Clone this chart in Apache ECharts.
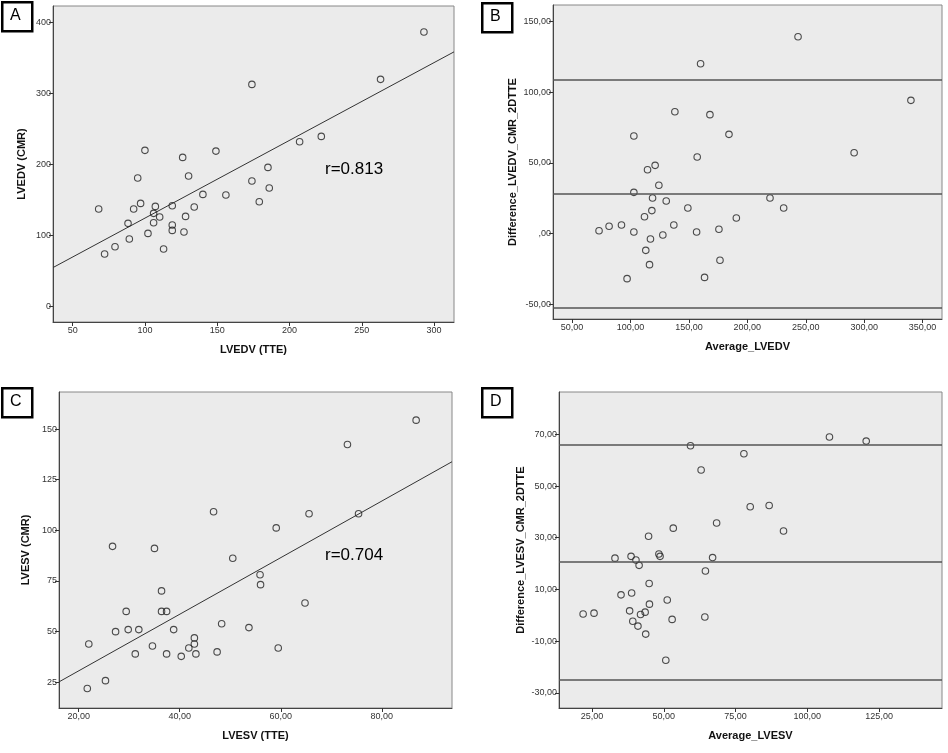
<!DOCTYPE html>
<html><head><meta charset="utf-8">
<script src="https://cdn.jsdelivr.net/npm/echarts@6/dist/echarts.min.js"></script>
<style>html,body{margin:0;padding:0;background:#fff}#c{width:948px;height:753px}</style>
</head><body><div id="c"></div>
<script>
// Panel A: LVEDV TTE vs CMR
const aX = [68,72.1,79.3,88.3,89.2,92.2,95,97,100,102.1,106,106,107.2,110.2,112.9,118.9,118.9,118.9,126.1,127,128.1,130.2,134.1,140.1,149.1,156,174,174,179.1,185.1,186,207,222,263,293];
const aY = [137.6,74.2,84.5,117.4,95.3,137.6,181.2,145.5,220.2,103.3,131.5,118.3,141.3,126.3,81.2,142.3,115,107.5,210.3,105.2,127.2,184,140.4,158.2,219.2,157.3,313.1,177,147.9,196.2,167.1,232.4,239.9,320.2,386.9];
const aFit = {intercept: 15.3, slope: 1.095, r: 'r=0.813'};
const aXTicks = [50,100,150,200,250,300];
const aYTicks = [0,100,200,300,400];

// Panel B: Bland-Altman LVEDV
const bX = [73.1,81.7,92.3,97.1,102.9,102.9,102.9,112,113.1,114.6,116.3,117.1,118.3,118.9,121.1,124.3,127.7,130.6,137.1,138,149.1,156.6,157.1,160,163.4,168,175.7,176.6,184.3,190.6,219.4,231.1,243.4,291.4,340];
const bY = [2.1,5.2,6.1,-31.8,69,29.2,1.2,12,-11.8,45.2,-21.9,-3.8,16.3,25.2,48.3,34.2,-0.9,23.1,6.1,86.2,18.1,1.2,54.2,120.1,-30.9,84.1,3.1,-18.8,70.2,11.1,25.2,18.1,139.2,57.2,94.2];
const bLines = [109.1, 28.3, -52.5];
const bXTicks = [50,100,150,200,250,300,350];
const bYTicks = [-50,0,50,100,150];

// Panel C: LVESV TTE vs CMR
const cX = [21.7,22,25.3,26.7,27.3,29.4,29.8,31.2,31.9,34.6,35,36.4,36.4,37.4,37.4,38.8,40.3,41.8,42.9,42.9,43.2,46.7,47.4,48.3,50.5,53.7,55.9,56,59.1,59.5,64.8,65.6,73.2,75.4,86.8];
const cY = [21.9,43.9,25.8,92.1,50,60,51,39,51,42.9,91.1,70.1,60,60,39,51,37.8,41.9,46.9,43.9,39,109.2,40,53.9,86.2,52,78.1,73.2,101.2,41.9,64.1,108.2,142.4,108.2,154.4];
const cFit = {intercept: 2.7, slope: 1.397, r: 'r=0.704'};
const cXTicks = [20,40,60,80];
const cYTicks = [25,50,75,100,125,150];

// Panel D: Bland-Altman LVESV
const dX = [21.9,25.7,33,35.1,38.1,38.6,38.8,39.2,40.3,41,41.4,41.9,43.5,43.7,44.7,44.9,45,48.3,48.7,50.7,51.2,52.9,53.3,59.3,63,64.3,64.5,67,68.4,77.9,80.1,86.7,91.7,107.7,120.5];
const dY = [0.5,0.8,22.1,7.9,1.7,22.8,8.6,-2.3,21.4,-4.2,19.3,0.3,1.2,-7.3,30.6,12.3,4.3,23.7,22.8,-17.4,5.9,-1.6,33.7,65.6,56.2,-0.7,17.1,22.3,35.7,62.5,42,42.5,32.6,69,67.4];
const dLines = [66, 20.6, -24.8];
const dXTicks = [25,50,75,100,125];
const dYTicks = [-30,-10,10,30,50,70];

const panels = [
  {L:'A', grid:{left:53,top:6,width:401,height:316}, xr:[36.4,313.8], yr:[-21.5,423.5], xt:aXTicks, yt:aYTicks, xn:'LVEDV (TTE)', yn:'LVEDV (CMR)', xs:aX, ys:aY, fit:aFit, xfmt:v=>String(v), yfmt:v=>String(v), box:[1,1], rpos:[325,171], yGap:26},
  {L:'B', grid:{left:553,top:5,width:389,height:314}, xr:[33.7,366.6], yr:[-60.3,161.6], xt:bXTicks, yt:bYTicks, xn:'Average_LVEDV', yn:'Difference_LVEDV_CMR_2DTTE', xs:bX, ys:bY, lines:bLines, xfmt:v=>v.toFixed(2).replace('.',','), yfmt:v=>(v===0?',00':v.toFixed(2).replace('.',',')), box:[481,2], yGap:35},
  {L:'C', grid:{left:59,top:392,width:393,height:316}, xr:[16.1,93.9], yr:[12.3,168.3], xt:cXTicks, yt:cYTicks, xn:'LVESV (TTE)', yn:'LVESV (CMR)', xs:cX, ys:cY, fit:cFit, xfmt:v=>v.toFixed(2).replace('.',','), yfmt:v=>String(v), box:[1,387], rpos:[325,557], yGap:28},
  {L:'D', grid:{left:559,top:392,width:383,height:316}, xr:[13.5,146.9], yr:[-35.9,86.4], xt:dXTicks, yt:dYTicks, xn:'Average_LVESV', yn:'Difference_LVESV_CMR_2DTTE', xs:dX, ys:dY, lines:dLines, xfmt:v=>v.toFixed(2).replace('.',','), yfmt:v=>v.toFixed(2).replace('.',','), box:[481,387], yGap:33}
];

const FONT = '"Liberation Sans", Arial, sans-serif';
const grids=[], xAxes=[], yAxes=[], series=[], graphics=[];
panels.forEach((p,i)=>{
  grids.push(Object.assign({show:true, backgroundColor:'#ebebeb', borderColor:'#888', borderWidth:1}, p.grid));
  const common = {
    type:'value', gridIndex:i, splitLine:{show:false},
    axisLine:{show:true, onZero:false, lineStyle:{color:'#444', width:1}},
    axisTick:{show:true, length:4, lineStyle:{color:'#333'}},
    nameLocation:'middle',
    nameTextStyle:{fontFamily:FONT, fontWeight:'bold', fontSize:11, color:'#111'}
  };
  xAxes.push(Object.assign({}, common, {
    min:p.xr[0], max:p.xr[1], name:p.xn, nameGap:22,
    axisTick:Object.assign({}, common.axisTick, {customValues:p.xt}),
    axisLabel:{customValues:p.xt, formatter:p.xfmt, fontFamily:FONT, fontSize:9, color:'#333', margin:4}
  }));
  yAxes.push(Object.assign({}, common, {
    min:p.yr[0], max:p.yr[1], name:p.yn, nameGap:p.yGap,
    axisTick:Object.assign({}, common.axisTick, {customValues:p.yt}),
    axisLabel:{customValues:p.yt, formatter:p.yfmt, fontFamily:FONT, fontSize:9, color:'#333', margin:2}
  }));
  series.push({
    type:'scatter', xAxisIndex:i, yAxisIndex:i, symbol:'circle', symbolSize:6.5,
    itemStyle:{color:'rgba(0,0,0,0)', borderColor:'#222', borderWidth:1.1},
    data:p.xs.map((x,k)=>[x,p.ys[k]]), silent:true, z:3
  });
  if(p.fit){
    const f=p.fit;
    series.push({
      type:'line', xAxisIndex:i, yAxisIndex:i, symbol:'none', silent:true,
      lineStyle:{color:'#333', width:1},
      data:[[p.xr[0], f.intercept+f.slope*p.xr[0]],[p.xr[1], f.intercept+f.slope*p.xr[1]]], z:2
    });
    graphics.push({type:'text', left:p.rpos[0], top:p.rpos[1]-10, style:{text:f.r, font:'17px '+FONT, fill:'#000'}});
  }
  if(p.lines){
    series.push({
      type:'line', xAxisIndex:i, yAxisIndex:i, data:[], silent:true,
      markLine:{silent:true, symbol:'none', label:{show:false}, lineStyle:{color:'#555', width:1.5, type:'solid'},
        data:p.lines.map(v=>({yAxis:v}))}
    });
  }
  graphics.push({type:'rect', left:p.box[0], top:p.box[1], shape:{width:30, height:29}, style:{fill:'#fff', stroke:'#000', lineWidth:2.5}});
  graphics.push({type:'text', left:p.box[0]+9, top:p.box[1]+7, style:{text:p.L, font:'16px '+FONT, fill:'#000'}});
});

const chart = echarts.init(document.getElementById('c'), null, {renderer:'canvas'});
chart.setOption({animation:false, backgroundColor:'#fff', grid:grids, xAxis:xAxes, yAxis:yAxes, series:series, graphic:graphics});
</script>
</body></html>
